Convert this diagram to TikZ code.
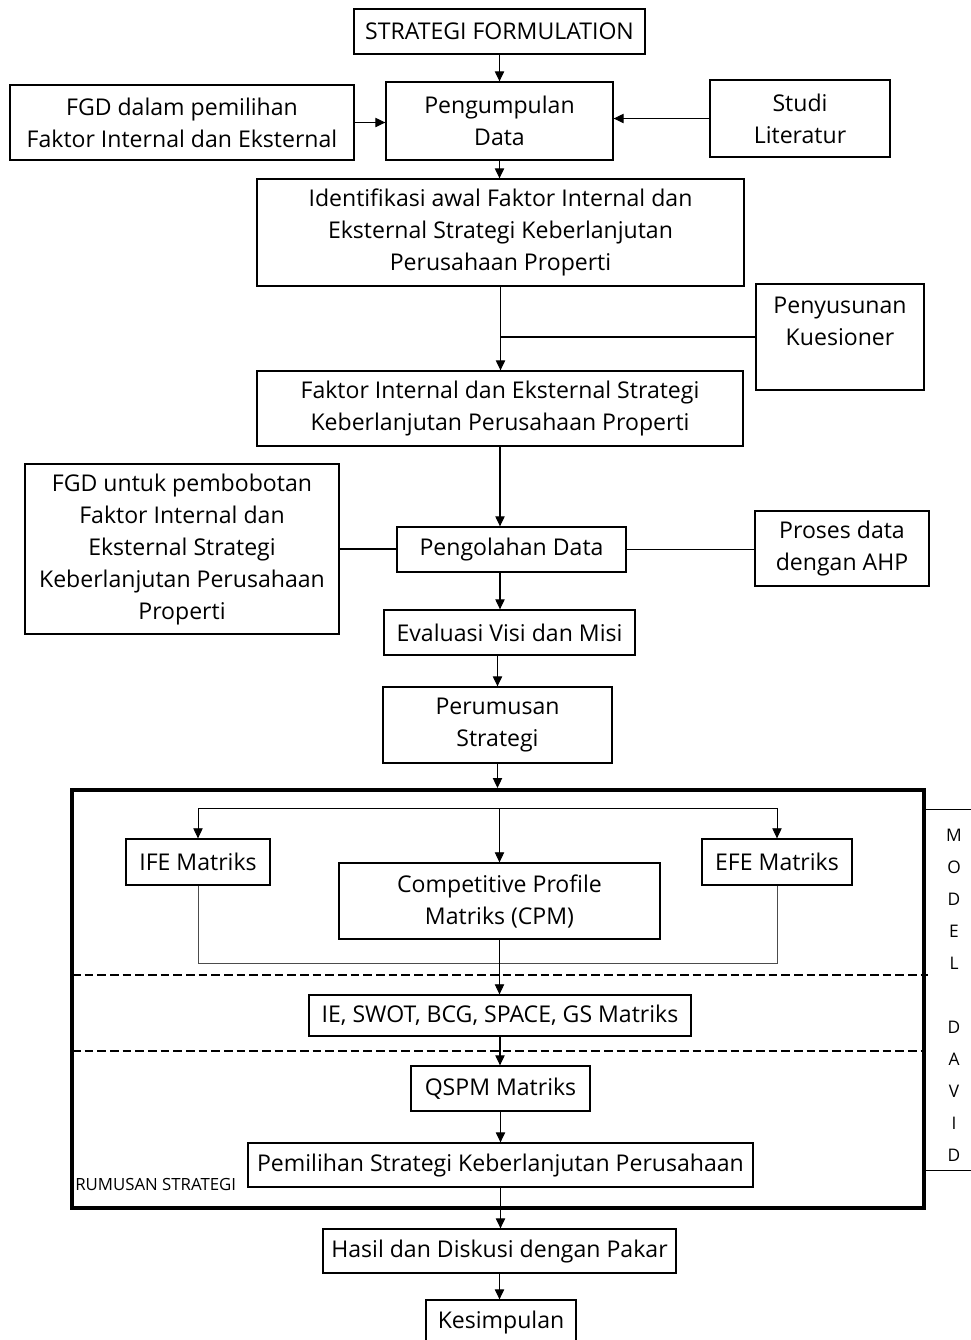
\documentclass[tikz,border=0pt]{standalone}
\usepackage{fontspec}
\setmainfont{Open Sans}
\usetikzlibrary{positioning, arrows.meta, calc}

\begin{document}
\begin{tikzpicture}
  [
    x=0.75pt, y=-0.75pt,
    font=\fontsize{17.3}{24}\selectfont,
    block/.style 2 args={draw, rectangle, line width=1pt, inner sep=0pt, align=center,
      minimum width=#1*0.75pt, minimum height=#2*0.75pt},
    frame/.style 2 args={draw, rectangle, line width=3pt, inner sep=0pt,
      minimum width=#1*0.75pt, minimum height=#2*0.75pt},
    link/.style={line width=0.8pt, -{Triangle[length=7.5pt, width=7pt]}},
    thinlink/.style={line width=0.6pt, -{Triangle[length=7.5pt, width=7pt]}},
    joint/.style={line width=0.8pt},
    divider/.style={line width=1.8pt, dash pattern=on 6.5pt off 3pt}
  ]
    \useasboundingbox (0,0) rectangle (971,1340);
    % =========================================================================
    % NODES
    % =========================================================================
    \node [block={291}{45}] (formulation) at (499.5,31.5) {STRATEGI FORMULATION};
    \node [block={227}{78}] (pengumpulan) at (499.5,121) {Pengumpulan\\Data};
    \node [block={344}{75}] (fgdpilih) at (182,122.5) {FGD dalam pemilihan\\Faktor Internal dan Eksternal};
    \node [block={180}{77}] (studi) at (800,118.5) {Studi\\Literatur};
    \node [block={487}{107}] (identifikasi) at (500.5,232.5)
      {Identifikasi awal Faktor Internal dan\\Eksternal Strategi Keberlanjutan\\Perusahaan Properti};
    \node [block={168}{106}] (kuesioner) at (840,337) {Penyusunan\\Kuesioner\\~};
    \node [block={486}{75}] (faktor) at (500,408.5)
      {Faktor Internal dan Eksternal Strategi\\Keberlanjutan Perusahaan Properti};
    \node [block={314}{170}] (fgdbobot) at (182,549)
      {FGD untuk pembobotan\\Faktor Internal dan\\Eksternal Strategi\\Keberlanjutan Perusahaan\\Properti};
    \node [block={229}{45}] (pengolahan) at (511.5,549.5) {Pengolahan Data};
    \node [block={174}{75}] (ahp) at (842,548.5) {Proses data\\dengan AHP};
    \node [block={251}{45}] (evaluasi) at (509.5,632.5) {Evaluasi Visi dan Misi};
    \node [block={229}{76}] (perumusan) at (497.5,725) {Perumusan\\Strategi};

    % --- RUMUSAN STRATEGI ---
    \node [frame={852}{418}] (rumusan) at (498,999) {};
    \node [block={144}{46}] (ife) at (198,862) {IFE Matriks};
    \node [block={150}{46}] (efe) at (777,862) {EFE Matriks};
    \node [block={321}{76}] (cpm) at (499.5,901) {Competitive Profile\\Matriks (CPM)};
    \node [block={382}{41}] (matriks) at (500,1015.5) {IE, SWOT, BCG, SPACE, GS Matriks};
    \node [block={179}{45}] (qspm) at (500.5,1088.5) {QSPM Matriks};
    \node [block={505}{44}] (pemilihan) at (500.5,1165) {Pemilihan Strategi Keberlanjutan Perusahaan};
    \node [anchor=base west, inner sep=0pt, font=\fontsize{12.6}{16}\selectfont] (rumusanlabel)
      at (75,1190) {RUMUSAN STRATEGI};

    \node [block={353}{44}] (hasil) at (499.5,1251) {Hasil dan Diskusi dengan Pakar};
    \node [block={150}{45}] (kesimpulan) at (501,1322.5) {Kesimpulan};

    % --- MODEL DAVID ---
    \node [align=center, inner sep=0pt, font=\fontsize{13}{24}\selectfont] (david)
      at (954,995) {M\\O\\D\\E\\L\\[24pt]D\\A\\V\\I\\D};

    \coordinate (split) at (499,808);
    \coordinate (join) at (499,963);
    \coordinate (dashAwest) at (72,975);
    \coordinate (dashAeast) at (928,975);
    \coordinate (dashBwest) at (72,1051);
    \coordinate (dashBeast) at (926,1051);
    \coordinate (brackettop) at (971,809);
    \coordinate (bracketbot) at (971,1170);

    % =========================================================================
    % PATHS
    % =========================================================================
    % --- MAIN FLOW ---
    \draw [link] (formulation.south) -- (pengumpulan.north);
    \draw [link] (fgdpilih.east) -- (fgdpilih.east -| pengumpulan.west);
    \draw [link] (studi.west) -- (studi.west -| pengumpulan.east);
    \draw [link] (pengumpulan.south) -- (pengumpulan.south |- identifikasi.north);
    \draw [link] (identifikasi.south) -- (identifikasi.south |- faktor.north);
    \draw [joint] (kuesioner.west) -- (kuesioner.west -| identifikasi.south);
    \draw [link] (faktor.south) -- (faktor.south |- pengolahan.north);
    \draw [joint] (fgdbobot.east) -- (fgdbobot.east -| pengolahan.west);
    \draw [joint] (pengolahan.east) -- (pengolahan.east -| ahp.west);
    \draw [link] (faktor.south |- pengolahan.south) -- (faktor.south |- evaluasi.north);
    \draw [link] (perumusan.north |- evaluasi.south) -- (perumusan.north);
    \draw [link] (perumusan.south) -- (perumusan.south |- rumusan.north);
    % --- INSIDE THE FRAME ---
    \draw [joint, line width=0.6pt] (ife.north |- split) -- (efe.north |- split);
    \draw [thinlink] (ife.north |- split) -- (ife.north);
    \draw [thinlink] (efe.north |- split) -- (efe.north);
    \draw [thinlink] (cpm.north |- split) -- (cpm.north);
    \draw [black!70, line width=0.6pt] (ife.south) -- (ife.south |- join) -- (efe.south |- join) -- (efe.south);
    \draw [thinlink] (cpm.south) -- (cpm.south |- matriks.north);
    \draw [divider] (dashAwest) -- (dashAeast);
    \draw [divider] (dashBwest) -- (dashBeast);
    \draw [link] (matriks.south) -- (matriks.south |- qspm.north);
    \draw [link] (qspm.south) -- (qspm.south |- pemilihan.north);
    \draw [link] (pemilihan.south) -- (pemilihan.south |- hasil.north);
    \draw [link] (hasil.south) -- (hasil.south |- kesimpulan.north);
    % --- BRACKET ---
    \draw [line width=0.6pt] (brackettop -| rumusan.east) -- (brackettop);
    \draw [line width=0.6pt] (bracketbot -| rumusan.east) -- (bracketbot);

  \end{tikzpicture}
\end{document}
